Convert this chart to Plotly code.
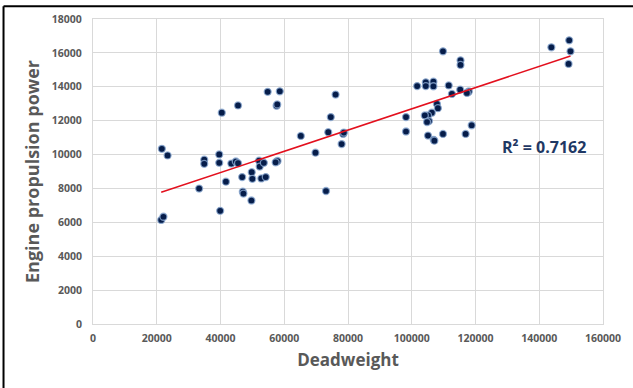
import plotly.graph_objects as go

deadweight = [21600, 23400, 34900, 34900, 39600, 39600, 40400, 45500, 43400, 44800,
              45500, 54800, 58600, 57600, 57800, 46800, 49800, 50000, 52100, 52300,
              53600, 52800, 54200, 57600, 57900, 57300, 41700, 33300, 47000, 47200,
              49700, 65200, 69800, 73100, 73800, 74600, 76100, 78000, 78500, 78700,
              21400, 22100, 39900,
              109800, 115300, 115300, 101700, 104400, 104400, 106800, 106800, 111600,
              112600, 115200, 117600, 117900, 117300, 107900, 108200, 106300, 105100,
              104100, 105400, 104800, 98200, 98200, 105100, 106900, 107100, 109800,
              116900, 118800, 143800, 149400, 149800, 149200]
power = [10340, 9950, 9700, 9450, 10010, 9510, 12470, 12900, 9470, 9590,
         9490, 13700, 13730, 12880, 12960, 8670, 8960, 8570, 9640, 9290,
         9510, 8590, 8670, 9580, 9620, 9540, 8400, 7990, 7810, 7700,
         7290, 11100, 10110, 7850, 11320, 12210, 13540, 10620, 11220, 11300,
         6140, 6330, 6680,
         16090, 15560, 15290, 14040, 14260, 14040, 14300, 14030, 14080,
         13580, 13830, 13680, 13720, 13640, 12990, 12740, 12470, 12310,
         12310, 11980, 11920, 12210, 11360, 11120, 10870, 10820, 11220,
         11220, 11730, 16330, 16740, 16090, 15350]

# linear trendline (Excel trendline ends)
trend_deadweight = [21400, 149800]
trend_power = [7770, 15820]

x_ticks = [0, 20000, 40000, 60000, 80000, 100000, 120000, 140000, 160000]
y_ticks = [0, 2000, 4000, 6000, 8000, 10000, 12000, 14000, 16000, 18000]
r2_label = "R² = 0.7162"

fig = go.Figure()
fig.add_trace(go.Scatter(
    x=deadweight, y=power, mode="markers",
    marker=dict(size=7, color="#061d4a",
                line=dict(width=1.3, color="rgba(140,170,210,0.8)")),
    showlegend=False, hoverinfo="skip"))
fig.add_trace(go.Scatter(
    x=trend_deadweight, y=trend_power, mode="lines",
    line=dict(color="#e3101e", width=1.6),
    showlegend=False, hoverinfo="skip"))

fig.add_annotation(x=141500, y=10420, text="<b>" + r2_label + "</b>",
                   showarrow=False, font=dict(family="Open Sans", size=16, color="#1f3864"))

W, H = 633, 388
L, R, T, B = 93, 27, 16, 64
pw, ph = W - L - R, H - T - B
px = lambda p: (p - L) / pw
py = lambda p: 1 - (p - T) / ph
fig.add_shape(type="line", xref="paper", yref="paper",
              x0=px(3), y0=py(3), x1=px(W + 5), y1=py(3),
              line=dict(color="black", width=2))
fig.add_shape(type="line", xref="paper", yref="paper",
              x0=px(3), y0=py(3), x1=px(3), y1=py(H + 5),
              line=dict(color="black", width=2))

tick_font = dict(family="Open Sans", size=10.5, color="#595959")
fig.update_xaxes(range=[0, 160000], tickvals=x_ticks, ticktext=["<b>%d</b>" % v for v in x_ticks],
                 showgrid=True, gridcolor="#d9d9d9", gridwidth=1, zeroline=False,
                 showline=True, linecolor="#d9d9d9", mirror=True, ticks="",
                 tickfont=tick_font, ticklabelstandoff=4,
                 title=dict(text="<b>Deadweight</b>", standoff=10,
                            font=dict(family="Open Sans", size=17, color="#595959")))
fig.update_yaxes(range=[0, 18000], tickvals=y_ticks, ticktext=["<b>%d</b>" % v for v in y_ticks],
                 showgrid=True, gridcolor="#d9d9d9", gridwidth=1, zeroline=False,
                 showline=True, linecolor="#d9d9d9", mirror=True, ticks="",
                 tickfont=tick_font, ticklabelstandoff=8,
                 title=dict(text="<b>Engine propulsion power</b>", standoff=7,
                            font=dict(family="Open Sans", size=18, color="#595959")))
fig.update_layout(width=W, height=H, margin=dict(l=L, r=R, t=T, b=B),
                  paper_bgcolor="white", plot_bgcolor="white")
fig.write_html("out.html")
